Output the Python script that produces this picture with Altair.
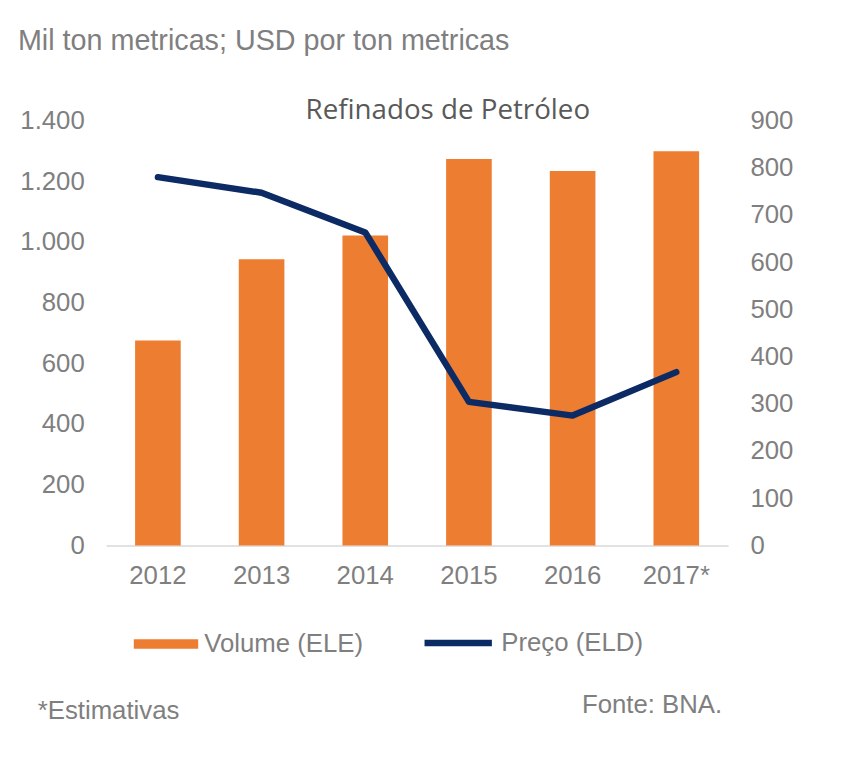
import altair as alt
import pandas as pd

anos = ["2012", "2013", "2014", "2015", "2016", "2017*"]
volume = [675, 943, 1021, 1273, 1234, 1299]
preco = [780, 747, 663, 304, 275, 367]

ORANGE = "#ED7D31"
NAVY = "#0C2A63"
GREY = "#7F7F7F"
FONT = "Liberation Sans"

df = pd.DataFrame({
    "ano": anos,
    "volume": volume,
    "preco": preco,
    "sv": ["Volume (ELE)"] * len(anos),
    "sp": ["Preço (ELD)"] * len(anos),
})

x_enc = alt.X(
    "ano:N", sort=anos, title=None,
    scale=alt.Scale(paddingInner=0.56, paddingOuter=0.28),
    axis=alt.Axis(labelAngle=0, labelFontSize=26, labelColor=GREY, labelFont=FONT,
                  labelPadding=17, ticks=False, domainColor="#D9D9D9", domainWidth=1.5,
                  grid=False),
)

bars = alt.Chart(df).mark_bar().encode(
    x=x_enc,
    y=alt.Y("volume:Q", title=None,
            scale=alt.Scale(domain=[0, 1400]),
            axis=alt.Axis(values=[0, 200, 400, 600, 800, 1000, 1200, 1400],
                          labelExpr="replace(format(datum.value, ','), ',', '.')",
                          labelFontSize=26, labelColor=GREY, labelFont=FONT,
                          labelPadding=22, ticks=False, domain=False, grid=False)),
    fill=alt.Fill("sv:N", title=None,
                  scale=alt.Scale(range=[ORANGE]),
                  legend=alt.Legend(orient="none", legendX=28, legendY=496,
                                    symbolType="M-1,-0.15H1V0.15H-1Z", symbolSize=4225,
                                    symbolStrokeWidth=0, symbolOpacity=1,
                                    labelFontSize=26, labelColor=GREY, labelFont=FONT,
                                    labelOffset=6, labelLimit=400, padding=0)),
)

line = alt.Chart(df).mark_line(strokeWidth=6.5, strokeCap="round", strokeJoin="round").encode(
    x=x_enc,
    y=alt.Y("preco:Q", title=None,
            scale=alt.Scale(domain=[0, 900]),
            axis=alt.Axis(orient="right", values=[0, 100, 200, 300, 400, 500, 600, 700, 800, 900],
                          labelFontSize=26, labelColor=GREY, labelFont=FONT,
                          labelPadding=22, ticks=False, domain=False, grid=False)),
    stroke=alt.Stroke("sp:N", title=None,
                      scale=alt.Scale(range=[NAVY]),
                      legend=alt.Legend(orient="none", legendX=318, legendY=490,
                                        symbolType="stroke", symbolSize=4624,
                                        symbolStrokeWidth=6.5,
                                        labelFontSize=26, labelColor=GREY, labelFont=FONT,
                                        labelOffset=6, labelLimit=400, padding=0)),
)

def txt(s, x, y, size=26, align="left", color=GREY, font=FONT):
    return alt.Chart(pd.DataFrame({"t": [s]})).mark_text(
        align=align, baseline="alphabetic", fontSize=size, color=color, font=font
    ).encode(text="t:N", x=alt.value(x), y=alt.value(y))

sub = txt("Mil ton metricas; USD por ton metricas", -89, -71, size=29)
title = txt("Refinados de Petróleo", 345, -1, size=28, align="center", color="#595959", font="Open Sans")
est = txt("*Estimativas", -69, 604)
fonte = txt("Fonte: BNA.", 622, 598, align="right")

chart = alt.layer(bars, line, sub, title, est, fonte).resolve_scale(
    y="independent", fill="independent", stroke="independent"
).properties(
    width=628, height=429,
    autosize=alt.AutoSizeParams(type="none"),
    padding={"left": 99, "top": 110, "right": 120, "bottom": 208},
).configure_view(stroke=None)

chart.save("out.html", embed_options={"renderer": "svg", "actions": False})
